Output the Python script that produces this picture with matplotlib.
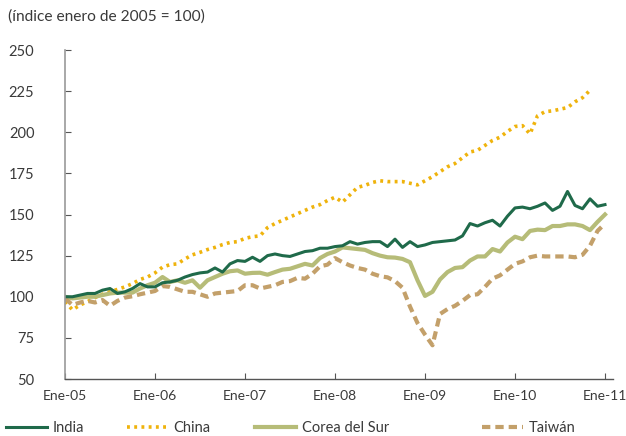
import numpy as np
import matplotlib
matplotlib.use("Agg")
import matplotlib.pyplot as plt

plt.rcParams['font.family'] = ['Lato', 'DejaVu Sans']

# indices mensuales, enero 2005 = 100
india = [100, 100, 101, 102, 102, 104, 105, 102, 103, 105, 108, 106,
         106, 108.5, 109, 110, 112, 113.5, 114.5, 115, 117.5, 115, 120, 122,
         121.5, 124, 121.5, 125, 126, 125, 124.5, 126, 127.5, 128, 129.5, 129.5,
         130.5, 131, 133.5, 132, 133, 133.5, 133.5, 130.5, 135, 130, 133.5, 130.5,
         131.5, 133, 133.5, 134, 134.5, 137, 144.5, 143, 145, 146.5, 143, 149,
         154, 154.5, 153.5, 155, 157, 152.5, 155, 164, 155.5, 153.5, 159.5, 155,
         156]
china = [97, 92, 95, 97, 99.5, 101.5, 103, 104.5, 106, 108, 110.5, 112,
         114.5, 118, 119.5, 120, 123, 125.5, 127, 128.7, 130, 131.7, 133, 133.5,
         135.5, 136.5, 137, 142, 144.5, 146.5, 148.5, 150.5, 152.5, 154.5, 156, 158.5,
         160.5, 157.5, 162, 166.5, 167.7, 169.5, 170.5, 170, 170, 170, 169, 168,
         170.5, 173, 176, 179, 181, 184.5, 188, 189, 192, 195, 197, 200.5,
         203.5, 204, 199, 210, 212.5, 213, 214, 215, 218.5, 221, 225.5]
corea = [100, 99, 99.5, 100, 100, 101, 102, 102.5, 102.5, 102.5, 105, 107,
         108.5, 112, 109, 110, 108.5, 110, 105.5, 110, 112, 114, 115.5, 116,
         114, 114.5, 114.6, 113.4, 115, 116.5, 117, 118.5, 120, 119, 123.5, 126,
         127.5, 130, 129.5, 129, 128.5, 126.5, 125, 124, 123.8, 123, 121, 110,
         100.5, 103, 110.5, 115, 117.5, 118, 122, 124.5, 124.5, 129, 127.5, 133,
         136.5, 135, 140, 140.8, 140.5, 143, 143, 144, 144, 143, 140.5, 145.5,
         150]
taiwan = [99, 95, 96.5, 97.5, 96.5, 98, 94.5, 97.5, 99.5, 100.3, 101.5, 102.5,
          103.5, 106.5, 106, 104.5, 103, 103, 101.5, 100, 102, 102.5, 103, 103.5,
          107, 107, 105, 106, 107, 109, 109.5, 111.5, 111, 114, 118.5, 119.5,
          123.5, 121, 119, 117.5, 116.5, 114, 112.5, 111.8, 109.5, 105.5, 94, 84,
          77, 70.5, 89.5, 92.5, 94.5, 97.5, 101, 101.5, 106, 111, 113, 116.5,
          120, 121.5, 124, 125, 124.5, 124.5, 124.5, 124.5, 124, 125.5, 131, 140,
          144.5]

xlabels = ['Ene-05', 'Ene-06', 'Ene-07', 'Ene-08', 'Ene-09', 'Ene-10', 'Ene-11']
yticks = [50, 75, 100, 125, 150, 175, 200, 225, 250]

c_india = '#1f6a4a'
c_china = '#efb30c'
c_corea = '#b6bc78'
c_taiwan = '#c3a06a'
txt = '#3a3a3a'

fig = plt.figure(figsize=(6.26, 4.36), dpi=100)
ax = fig.add_axes([65 / 626, 57 / 436, 547.5 / 626, 329 / 436])

l2, = ax.plot(np.arange(len(china)), china, color=c_china, lw=2.6,
              linestyle=(0, (0.8, 1.2)), dash_capstyle='butt')
l3, = ax.plot(np.arange(len(corea)), corea, color=c_corea, lw=3.0,
              solid_joinstyle='round')
l4, = ax.plot(np.arange(len(taiwan)), taiwan, color=c_taiwan, lw=3.0,
              linestyle=(0, (2.0, 1.2)), dash_capstyle='butt')
l1, = ax.plot(np.arange(len(india)), india, color=c_india, lw=2.2,
              solid_joinstyle='round')

ax.set_xlim(0, 73)
ax.set_ylim(50, 250)
ax.set_xticks(np.arange(len(xlabels)) * 12)
ax.set_xticklabels(xlabels)
ax.set_yticks(yticks)

for s in ['top', 'right']:
    ax.spines[s].set_visible(False)
ax.spines['left'].set_color('#999999')
ax.spines['bottom'].set_color('#555555')
ax.spines['left'].set_linewidth(1.2)
ax.spines['bottom'].set_linewidth(1.0)
ax.tick_params(axis='y', direction='in', length=4, pad=22, labelsize=10.5,
               colors='#555555', labelcolor=txt)
ax.tick_params(axis='x', direction='in', length=4, pad=8, labelsize=10,
               colors='#555555', labelcolor=txt)

fig.text(8 / 626, 1 - 17 / 436, '(índice enero de 2005 = 100)', fontsize=11.2,
         color=txt, va='center', ha='left')

# leyenda: una entrada por serie, repartidas a lo ancho
entries = [(l1, 'India', 6), (l2, 'China', 127), (l3, 'Corea del Sur', 255),
           (l4, 'Taiwán', 482)]
for h, name, xp in entries:
    fig.legend([h], [name], loc='center left', bbox_to_anchor=(xp / 626, 1 - 428 / 436),
               frameon=False, fontsize=10.5, handlelength=2.8, handletextpad=0.4,
               borderaxespad=0, borderpad=0, labelcolor=txt)

fig.savefig('out.png', dpi=100)
